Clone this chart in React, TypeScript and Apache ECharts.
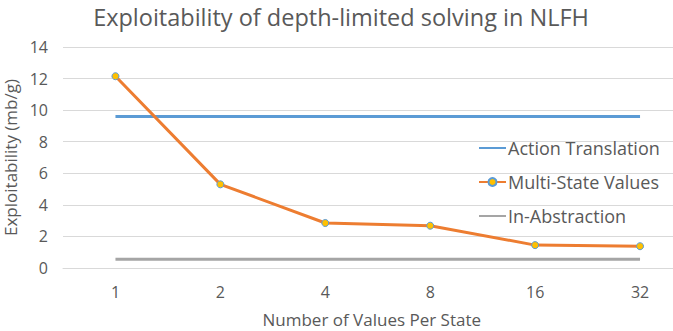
import React, { useEffect, useRef } from "react";
import * as echarts from "echarts";

const categories = ["1", "2", "4", "8", "16", "32"];
const actionTranslation = [9.6, 9.6, 9.6, 9.6, 9.6, 9.6];
const multiStateValues = [12.15, 5.3, 2.85, 2.68, 1.45, 1.38];
const inAbstraction = [0.55, 0.55, 0.55, 0.55, 0.55, 0.55];

const FONT = "'Open Sans', 'Noto Sans', sans-serif";
const TEXT = "#595959";

export default function App() {
  const ref = useRef<HTMLDivElement>(null);
  useEffect(() => {
    if (!ref.current) return;
    const chart = echarts.init(ref.current, undefined, { renderer: "svg" });
    chart.setOption({
      animation: false,
      backgroundColor: "#ffffff",
      textStyle: { fontFamily: FONT },
      title: {
        text: "Exploitability of depth-limited solving in NLFH",
        left: 336,
        top: 0,
        textAlign: "center",
        textStyle: { fontFamily: FONT, fontSize: 23.5, fontWeight: "normal", color: TEXT },
      },
      grid: { left: 63, top: 47, width: 629.5, height: 221, containLabel: false, outerBoundsMode: "none" },
      legend: {
        orient: "vertical",
        left: 473,
        top: 134,
        itemGap: 16,
        itemWidth: 27,
        itemHeight: 10,
        textStyle: { fontFamily: FONT, fontSize: 18, color: TEXT, padding: [0, 0, 0, -3] },
        data: [
          { name: "Action Translation", itemStyle: { opacity: 0 } },
          { name: "Multi-State Values" },
          { name: "In-Abstraction", itemStyle: { opacity: 0 } },
        ],
      },
      xAxis: {
        type: "category",
        data: categories,
        boundaryGap: true,
        axisLine: { show: true, lineStyle: { color: "#D9D9D9" } },
        axisTick: { show: false },
        axisLabel: { color: TEXT, fontSize: 16, fontFamily: FONT, margin: 16 },
        name: "Number of Values Per State",
        nameLocation: "middle",
        nameGap: 43,
        nameTextStyle: { color: TEXT, fontSize: 17, fontFamily: FONT, padding: [0, 12, 0, 0] },
      },
      yAxis: {
        type: "value",
        min: 0,
        max: 14,
        interval: 2,
        axisLine: { show: false },
        axisTick: { show: false },
        splitLine: { lineStyle: { color: "#D9D9D9", width: 1 } },
        axisLabel: { color: TEXT, fontSize: 16, fontFamily: FONT, margin: 15 },
        name: "Exploitability (mb/g)",
        nameLocation: "middle",
        nameGap: 40,
        nameTextStyle: { color: TEXT, fontSize: 17, fontFamily: FONT },
      },
      series: [
        {
          name: "Action Translation",
          type: "line",
          data: actionTranslation,
          showSymbol: false,
          symbol: "none",
          lineStyle: { color: "#5B9BD5", width: 3 },
          itemStyle: { color: "#5B9BD5" },
        },
        {
          name: "Multi-State Values",
          type: "line",
          data: multiStateValues,
          symbol: "circle",
          symbolSize: 7,
          lineStyle: { color: "#ED7D31", width: 3 },
          itemStyle: { color: "#FFC000", borderColor: "#5B9BD5", borderWidth: 1 },
        },
        {
          name: "In-Abstraction",
          type: "line",
          data: inAbstraction,
          showSymbol: false,
          symbol: "none",
          lineStyle: { color: "#A5A5A5", width: 3 },
          itemStyle: { color: "#A5A5A5" },
        },
      ],
    });
    return () => chart.dispose();
  }, []);
  return (
    <div style={{ position: "fixed", left: 0, top: 0, width: 673, height: 331, overflow: "hidden", background: "#fff" }}>
      <div ref={ref} style={{ width: 700, height: 331 }} />
    </div>
  );
}
